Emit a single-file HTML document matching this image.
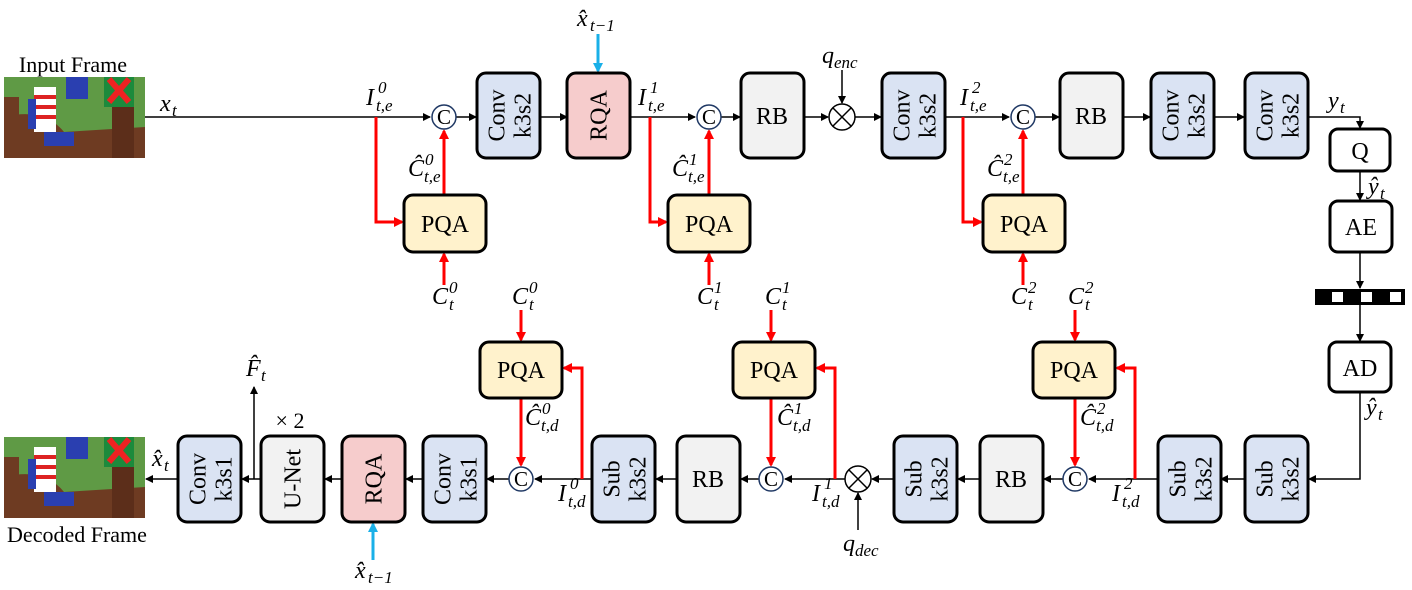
<!DOCTYPE html>
<html><head><meta charset="utf-8"><style>
html,body{margin:0;padding:0;background:#fff}
svg{display:block}
text{font-family:"Liberation Serif",serif;fill:#000}
.m{font-style:italic;font-size:24px}
.s{font-size:17px;font-style:italic}
.b{stroke:#000;stroke-width:3}
.l{stroke:#000;stroke-width:1.5;fill:none}
.r{stroke:#f00;stroke-width:3;fill:none}
.bl{stroke:#1ab0e8;stroke-width:3;fill:none}
.bt{font-size:24px;text-anchor:middle}
</style></head><body>
<svg width="1412" height="590" viewBox="0 0 1412 590" xmlns="http://www.w3.org/2000/svg">
<defs>
<marker id="ak" markerWidth="8" markerHeight="8" refX="7" refY="4" orient="auto" markerUnits="userSpaceOnUse"><path d="M0,0L8,4L0,8z" fill="#000"/></marker>
<marker id="ar" markerWidth="10" markerHeight="10" refX="8" refY="5" orient="auto" markerUnits="userSpaceOnUse"><path d="M0,0L10,5L0,10z" fill="#f00"/></marker>
<marker id="ab" markerWidth="10" markerHeight="10" refX="8" refY="5" orient="auto" markerUnits="userSpaceOnUse"><path d="M0,0L10,5L0,10z" fill="#1ab0e8"/></marker>
<g id="img">
<rect width="141" height="81" fill="#5f9a45"/>
<path d="M0,40Q40,30 60,55L141,50L141,81L0,81z" fill="#6e3b22"/>
<rect x="30" y="10" width="22" height="45" fill="#fff"/>
<rect x="30" y="18" width="22" height="4" fill="#d22"/><rect x="30" y="28" width="22" height="4" fill="#d22"/><rect x="30" y="38" width="22" height="4" fill="#d22"/>
<rect x="24" y="22" width="8" height="30" fill="#2a3fb0"/>
<rect x="62" y="0" width="22" height="22" fill="#2a3fb0"/>
<rect x="100" y="0" width="30" height="30" fill="#1c8a3c"/>
<path d="M105,2L125,25M125,2L105,25" stroke="#e22" stroke-width="6"/>
<rect x="108" y="30" width="22" height="51" fill="#5c2e1a"/>
<rect x="40" y="55" width="30" height="14" fill="#2a3fb0"/>
<rect x="0" y="20" width="15" height="61" fill="#6e3b22"/>
</g>
</defs>

<text x="73" y="72" font-size="22" text-anchor="middle">Input Frame</text>
<use href="#img" x="4" y="77"/>
<use href="#img" x="4" y="437"/>
<text x="77" y="542" font-size="22" text-anchor="middle">Decoded Frame</text>

<line x1="145" y1="117" x2="430" y2="117" class="l" marker-end="url(#ak)"/>
<line x1="456" y1="117" x2="476" y2="117" class="l" marker-end="url(#ak)"/>
<line x1="540" y1="117" x2="567" y2="117" class="l" marker-end="url(#ak)"/>
<line x1="630" y1="117" x2="695" y2="117" class="l" marker-end="url(#ak)"/>
<line x1="721" y1="117" x2="740" y2="117" class="l" marker-end="url(#ak)"/>
<line x1="804" y1="117" x2="828" y2="117" class="l" marker-end="url(#ak)"/>
<line x1="855" y1="117" x2="881" y2="117" class="l" marker-end="url(#ak)"/>
<line x1="945" y1="117" x2="1009" y2="117" class="l" marker-end="url(#ak)"/>
<line x1="1035" y1="117" x2="1059" y2="117" class="l" marker-end="url(#ak)"/>
<line x1="1123" y1="117" x2="1150" y2="117" class="l" marker-end="url(#ak)"/>
<line x1="1214" y1="117" x2="1244" y2="117" class="l" marker-end="url(#ak)"/>
<polyline points="1308,117 1360,117 1360,128" class="l" marker-end="url(#ak)"/>
<line x1="1360" y1="171" x2="1360" y2="200" class="l" marker-end="url(#ak)"/>
<line x1="1360" y1="252" x2="1360" y2="288" class="l" marker-end="url(#ak)"/>
<line x1="1360" y1="305" x2="1360" y2="341" class="l" marker-end="url(#ak)"/>
<polyline points="1360,392 1360,479 1309,479" class="l" marker-end="url(#ak)"/>
<line x1="842" y1="70" x2="842" y2="103" class="l" marker-end="url(#ak)"/>

<polyline points="376,117 376,222 402,222" class="r" marker-end="url(#ar)"/>
<polyline points="650,117 650,222 666,222" class="r" marker-end="url(#ar)"/>
<polyline points="963,117 963,222 981,222" class="r" marker-end="url(#ar)"/>
<line x1="444" y1="195" x2="444" y2="131" class="r" marker-end="url(#ar)"/>
<line x1="709" y1="195" x2="709" y2="131" class="r" marker-end="url(#ar)"/>
<line x1="1023" y1="195" x2="1023" y2="131" class="r" marker-end="url(#ar)"/>
<line x1="444" y1="285" x2="444" y2="254" class="r" marker-end="url(#ar)"/>
<line x1="709" y1="285" x2="709" y2="254" class="r" marker-end="url(#ar)"/>
<line x1="1023" y1="285" x2="1023" y2="254" class="r" marker-end="url(#ar)"/>
<line x1="598" y1="34" x2="598" y2="71" class="bl" marker-end="url(#ab)"/>

<line x1="1245" y1="479" x2="1221" y2="479" class="l" marker-end="url(#ak)"/>
<line x1="1158" y1="479" x2="1089" y2="479" class="l" marker-end="url(#ak)"/>
<line x1="1063" y1="479" x2="1044" y2="479" class="l" marker-end="url(#ak)"/>
<line x1="980" y1="479" x2="958" y2="479" class="l" marker-end="url(#ak)"/>
<line x1="894" y1="479" x2="872" y2="479" class="l" marker-end="url(#ak)"/>
<line x1="845" y1="479" x2="785" y2="479" class="l" marker-end="url(#ak)"/>
<line x1="759" y1="479" x2="741" y2="479" class="l" marker-end="url(#ak)"/>
<line x1="677" y1="479" x2="656" y2="479" class="l" marker-end="url(#ak)"/>
<line x1="592" y1="479" x2="535" y2="479" class="l" marker-end="url(#ak)"/>
<line x1="509" y1="479" x2="487" y2="479" class="l" marker-end="url(#ak)"/>
<line x1="423" y1="479" x2="406" y2="479" class="l" marker-end="url(#ak)"/>
<line x1="342" y1="479" x2="325" y2="479" class="l" marker-end="url(#ak)"/>
<line x1="261" y1="479" x2="242" y2="479" class="l" marker-end="url(#ak)"/>
<line x1="178" y1="479" x2="146" y2="479" class="l" marker-end="url(#ak)"/>
<line x1="254" y1="479" x2="254" y2="387" class="l" marker-end="url(#ak)"/>
<line x1="858" y1="530" x2="858" y2="493" class="l" marker-end="url(#ak)"/>

<polyline points="1135,479 1135,368 1117,368" class="r" marker-end="url(#ar)"/>
<polyline points="835,479 835,368 817,368" class="r" marker-end="url(#ar)"/>
<polyline points="582,479 582,368 564,368" class="r" marker-end="url(#ar)"/>
<line x1="1075" y1="398" x2="1075" y2="465" class="r" marker-end="url(#ar)"/>
<line x1="771" y1="398" x2="771" y2="465" class="r" marker-end="url(#ar)"/>
<line x1="521" y1="398" x2="521" y2="465" class="r" marker-end="url(#ar)"/>
<line x1="1075" y1="310" x2="1075" y2="340" class="r" marker-end="url(#ar)"/>
<line x1="771" y1="310" x2="771" y2="340" class="r" marker-end="url(#ar)"/>
<line x1="521" y1="310" x2="521" y2="340" class="r" marker-end="url(#ar)"/>
<line x1="373" y1="560" x2="373" y2="524" class="bl" marker-end="url(#ab)"/>

<g class="b">
<rect x="477" y="73" width="63" height="85" rx="9" fill="#dae3f3"/>
<rect x="567" y="73" width="63" height="85" rx="9" fill="#f6cccc"/>
<rect x="741" y="73" width="63" height="85" rx="9" fill="#f2f2f2"/>
<rect x="882" y="73" width="63" height="85" rx="9" fill="#dae3f3"/>
<rect x="1060" y="73" width="63" height="85" rx="9" fill="#f2f2f2"/>
<rect x="1151" y="73" width="63" height="85" rx="9" fill="#dae3f3"/>
<rect x="1245" y="73" width="63" height="85" rx="9" fill="#dae3f3"/>
<rect x="1330" y="129" width="60" height="42" rx="8" fill="#fff"/>
<rect x="1330" y="201" width="62" height="51" rx="8" fill="#fff"/>
<rect x="1329" y="342" width="62" height="50" rx="8" fill="#fff"/>
<rect x="404" y="195" width="82" height="57" rx="9" fill="#fff2cc"/>
<rect x="668" y="195" width="82" height="57" rx="9" fill="#fff2cc"/>
<rect x="983" y="195" width="82" height="57" rx="9" fill="#fff2cc"/>
<rect x="178" y="436" width="63" height="86" rx="9" fill="#dae3f3"/>
<rect x="261" y="436" width="63" height="86" rx="9" fill="#f2f2f2"/>
<rect x="342" y="436" width="63" height="86" rx="9" fill="#f6cccc"/>
<rect x="423" y="436" width="63" height="86" rx="9" fill="#dae3f3"/>
<rect x="592" y="436" width="63" height="86" rx="9" fill="#dae3f3"/>
<rect x="677" y="436" width="63" height="86" rx="9" fill="#f2f2f2"/>
<rect x="894" y="436" width="63" height="86" rx="9" fill="#dae3f3"/>
<rect x="980" y="436" width="63" height="86" rx="9" fill="#f2f2f2"/>
<rect x="1158" y="436" width="63" height="86" rx="9" fill="#dae3f3"/>
<rect x="1245" y="436" width="63" height="86" rx="9" fill="#dae3f3"/>
<rect x="480" y="342" width="82" height="56" rx="9" fill="#fff2cc"/>
<rect x="733" y="342" width="82" height="56" rx="9" fill="#fff2cc"/>
<rect x="1033" y="342" width="82" height="56" rx="9" fill="#fff2cc"/>
</g>

<rect x="1315" y="289" width="90" height="16" fill="#000"/>
<rect x="1332" y="292" width="11" height="10" fill="#fff"/>
<rect x="1361" y="292" width="11" height="10" fill="#fff"/>
<rect x="1390" y="292" width="11" height="10" fill="#fff"/>

<g fill="#fff" stroke="#1f3864" stroke-width="1.5">
<circle cx="444" cy="117" r="12"/><circle cx="709" cy="117" r="12"/><circle cx="1023" cy="117" r="12"/>
<circle cx="521" cy="479" r="12"/><circle cx="771" cy="479" r="12"/><circle cx="1075" cy="479" r="12"/>
</g>
<g font-size="21" text-anchor="middle">
<text x="444" y="124">C</text><text x="709" y="124">C</text><text x="1023" y="124">C</text>
<text x="521" y="486">C</text><text x="771" y="486">C</text><text x="1075" y="486">C</text>
</g>
<g fill="#fff" stroke="#000" stroke-width="1.5">
<circle cx="842" cy="117" r="13"/><circle cx="858" cy="479" r="13"/>
</g>
<path d="M833,108L851,126M851,108L833,126M849,470L867,488M867,470L849,488" stroke="#000" stroke-width="1.5"/>

<g class="bt">
<text transform="translate(508.5,115.5) rotate(-90)"><tspan x="0" y="-4">Conv</tspan><tspan x="0" y="22">k3s2</tspan></text>
<text transform="translate(598.5,115.5) rotate(-90)"><tspan x="0" y="8">RQA</tspan></text>
<text x="772" y="124">RB</text>
<text transform="translate(913.5,115.5) rotate(-90)"><tspan x="0" y="-4">Conv</tspan><tspan x="0" y="22">k3s2</tspan></text>
<text x="1091" y="124">RB</text>
<text transform="translate(1182.5,115.5) rotate(-90)"><tspan x="0" y="-4">Conv</tspan><tspan x="0" y="22">k3s2</tspan></text>
<text transform="translate(1276.5,115.5) rotate(-90)"><tspan x="0" y="-4">Conv</tspan><tspan x="0" y="22">k3s2</tspan></text>
<text x="1360" y="159">Q</text>
<text x="1361" y="235">AE</text>
<text x="1360" y="376">AD</text>
<text x="445" y="232">PQA</text><text x="709" y="232">PQA</text><text x="1024" y="232">PQA</text>
<text x="521" y="378">PQA</text><text x="774" y="378">PQA</text><text x="1074" y="378">PQA</text>
<text transform="translate(209.5,479) rotate(-90)"><tspan x="0" y="-4">Conv</tspan><tspan x="0" y="22">k3s1</tspan></text>
<text transform="translate(292.5,479) rotate(-90)"><tspan x="0" y="8">U-Net</tspan></text>
<text transform="translate(373.5,479) rotate(-90)"><tspan x="0" y="8">RQA</tspan></text>
<text transform="translate(454.5,479) rotate(-90)"><tspan x="0" y="-4">Conv</tspan><tspan x="0" y="22">k3s1</tspan></text>
<text transform="translate(623.5,479) rotate(-90)"><tspan x="0" y="-4">Sub</tspan><tspan x="0" y="22">k3s2</tspan></text>
<text x="708" y="487">RB</text>
<text transform="translate(925.5,479) rotate(-90)"><tspan x="0" y="-4">Sub</tspan><tspan x="0" y="22">k3s2</tspan></text>
<text x="1011" y="487">RB</text>
<text transform="translate(1189.5,479) rotate(-90)"><tspan x="0" y="-4">Sub</tspan><tspan x="0" y="22">k3s2</tspan></text>
<text transform="translate(1276.5,479) rotate(-90)"><tspan x="0" y="-4">Sub</tspan><tspan x="0" y="22">k3s2</tspan></text>
<text x="290" y="428" font-size="22">× 2</text>
</g>

<g class="m">
<text x="160" y="111">x</text><text class="s" x="172" y="116">t</text>
<!-- I labels top -->
<text x="366" y="105">I</text><text class="s" x="376" y="111">t,e</text><text class="s" x="378" y="93">0</text>
<text x="638" y="105">I</text><text class="s" x="648" y="111">t,e</text><text class="s" x="650" y="93">1</text>
<text x="960" y="105">I</text><text class="s" x="970" y="111">t,e</text><text class="s" x="972" y="93">2</text>
<!-- C hat top -->
<text x="408" y="176">Ĉ</text><text class="s" x="424" y="182">t,e</text><text class="s" x="425" y="165">0</text>
<text x="672" y="176">Ĉ</text><text class="s" x="688" y="182">t,e</text><text class="s" x="689" y="165">1</text>
<text x="987" y="176">Ĉ</text><text class="s" x="1003" y="182">t,e</text><text class="s" x="1004" y="165">2</text>
<!-- C_t -->
<text x="432" y="304">C</text><text class="s" x="449" y="310">t</text><text class="s" x="449" y="293">0</text>
<text x="697" y="304">C</text><text class="s" x="714" y="310">t</text><text class="s" x="714" y="293">1</text>
<text x="1011" y="304">C</text><text class="s" x="1028" y="310">t</text><text class="s" x="1028" y="293">2</text>
<text x="512" y="304">C</text><text class="s" x="529" y="310">t</text><text class="s" x="529" y="293">0</text>
<text x="765" y="304">C</text><text class="s" x="782" y="310">t</text><text class="s" x="782" y="293">1</text>
<text x="1068" y="304">C</text><text class="s" x="1085" y="310">t</text><text class="s" x="1085" y="293">2</text>
<text x="577" y="26">x̂</text><text class="s" x="590" y="31">t−1</text>
<text x="822" y="63">q</text><text class="s" x="834" y="68">enc</text>
<text x="1328" y="108">y</text><text class="s" x="1340" y="113">t</text>
<text x="1368" y="194">ŷ</text><text class="s" x="1380" y="199">t</text>
<text x="1366" y="415">ŷ</text><text class="s" x="1378" y="420">t</text>
<!-- C hat bottom -->
<text x="525" y="425">Ĉ</text><text class="s" x="541" y="431">t,d</text><text class="s" x="542" y="414">0</text>
<text x="777" y="425">Ĉ</text><text class="s" x="793" y="431">t,d</text><text class="s" x="794" y="414">1</text>
<text x="1080" y="425">Ĉ</text><text class="s" x="1096" y="431">t,d</text><text class="s" x="1097" y="414">2</text>
<!-- I bottom -->
<text x="558" y="501">I</text><text class="s" x="568" y="507">t,d</text><text class="s" x="570" y="489">0</text>
<text x="812" y="501">I</text><text class="s" x="822" y="507">t,d</text><text class="s" x="824" y="489">1</text>
<text x="1112" y="501">I</text><text class="s" x="1122" y="507">t,d</text><text class="s" x="1124" y="489">2</text>
<text x="843" y="551">q</text><text class="s" x="855" y="556">dec</text>
<text x="152" y="466">x̂</text><text class="s" x="164" y="471">t</text>
<text x="246" y="376">F̂</text><text class="s" x="261" y="381">t</text>
<text x="355" y="578">x̂</text><text class="s" x="368" y="583">t−1</text>
</g>
</svg>
</body></html>
